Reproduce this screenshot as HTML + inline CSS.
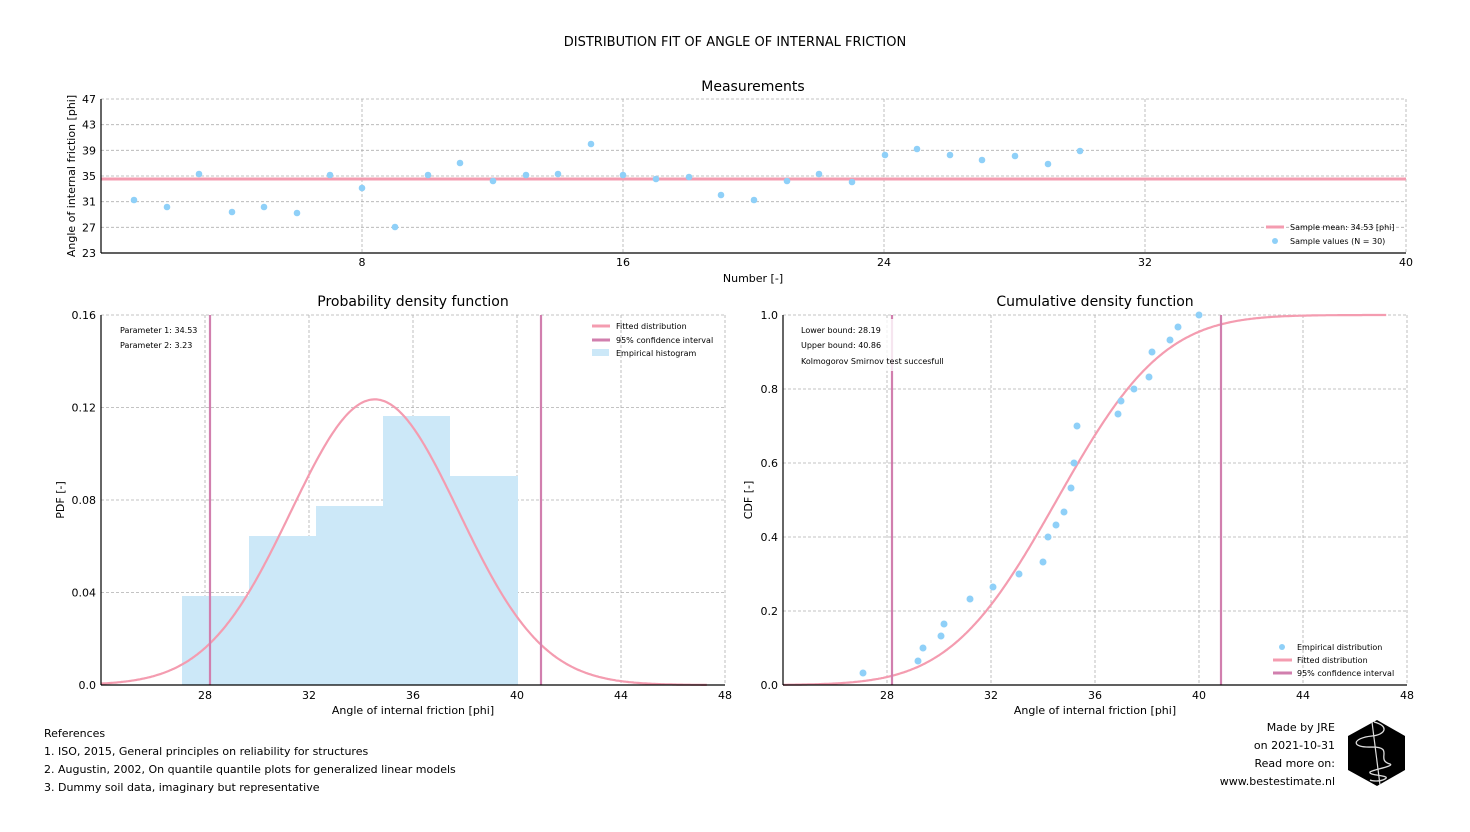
<!DOCTYPE html>
<html><head><meta charset="utf-8"><style>
body{margin:0;background:#fff;}
svg text{font-family:"DejaVu Sans","Liberation Sans",sans-serif;fill:#000;}
</style></head><body>
<svg id="s" width="1470" height="827" xmlns="http://www.w3.org/2000/svg">
<rect width="1470" height="827" fill="#fff"/>
<text x="735" y="46" font-size="13" text-anchor="middle">DISTRIBUTION FIT OF ANGLE OF INTERNAL FRICTION</text>
<g id="top"></g>
<g id="pdf"></g>
<g id="cdf"></g>
<g font-size="11">
<text x="44" y="737">References</text>
<text x="44" y="755">1. ISO, 2015, General principles on reliability for structures</text>
<text x="44" y="773">2. Augustin, 2002, On quantile quantile plots for generalized linear models</text>
<text x="44" y="791">3. Dummy soil data, imaginary but representative</text>
<text x="1335" y="731" text-anchor="end">Made by JRE</text>
<text x="1335" y="749" text-anchor="end">on 2021-10-31</text>
<text x="1335" y="767" text-anchor="end">Read more on:</text>
<text x="1335" y="785" text-anchor="end">www.bestestimate.nl</text>
</g>
<polygon points="1377,720 1405,736 1405,770 1377,786 1348,770 1348,736" fill="#000"/>
<path d="M1374,722 C1390,726 1385,735 1372,736 C1352,738 1350,748 1372,747 C1395,747 1375,760 1390,764 C1395,766 1372,770 1370,772 C1368,776 1392,775 1385,779 C1380,782 1372,781 1370,780" stroke="#ddd" stroke-width="1.3" fill="none"/>
<line x1="1372" y1="722" x2="1380" y2="785" stroke="#ddd" stroke-width="1.2"/>
</svg>
<script>
const NS="http://www.w3.org/2000/svg";
function el(p,t,a,txt){const e=document.createElementNS(NS,t);for(const k in a)e.setAttribute(k,a[k]);if(txt!==undefined)e.textContent=txt;p.appendChild(e);return e;}
const G="#b0b0b0",PINK="#f49cb0",CI="#d17fae",BLUE="#8fd0f8";
function grid(g,L,T,R,B,xs,ys){xs.forEach(x=>el(g,'line',{x1:x,x2:x,y1:T,y2:B,stroke:G,'stroke-width':0.8,'stroke-dasharray':'3,2'}));ys.forEach(y=>el(g,'line',{x1:L,x2:R,y1:y,y2:y,stroke:G,'stroke-width':0.8,'stroke-dasharray':'3,2'}));}
function spines(g,L,T,R,B){el(g,'line',{x1:L,x2:L,y1:T,y2:B,stroke:'#000','stroke-width':1.2});el(g,'line',{x1:L,x2:R,y1:B,y2:B,stroke:'#000','stroke-width':1.2});}
// top
(function(){const g=document.getElementById('top');const L=101,T=99,R=1406,B=253;
const X=v=>L+v*(R-L)/40,Y=v=>B-(v-23)*(B-T)/24;
const xs=[8,16,24,32,40].map(X),ys=[27,31,35,39,43,47].map(Y);
grid(g,L,T,R,B,xs,ys);
el(g,'text',{x:753,y:91,'font-size':14,'text-anchor':'middle'},'Measurements');
el(g,'line',{x1:L,x2:R,y1:179,y2:179,stroke:PINK,'stroke-width':3});
const pts=[[134,200],[167,207],[199,174],[232,212],[264,207],[297,213],[330,175],[362,188],[395,227],[428,175],[460,163],[493,181],[526,175],[558,174],[591,144],[623,175],[656,179],[689,177],[721,195],[754,200],[787,181],[819,174],[852,182],[885,155],[917,149],[950,155],[982,160],[1015,156],[1048,164],[1080,151]];
pts.forEach(p=>el(g,'circle',{cx:p[0],cy:p[1],r:3.3,fill:BLUE}));
spines(g,L,T,R,B);
[8,16,24,32,40].forEach(v=>el(g,'text',{x:X(v),y:266,'font-size':11,'text-anchor':'middle'},v));
[23,27,31,35,39,43,47].forEach(v=>el(g,'text',{x:96,y:Y(v)+4,'font-size':11,'text-anchor':'end'},v));
el(g,'text',{x:753,y:282,'font-size':11,'text-anchor':'middle'},'Number [-]');
el(g,'text',{x:0,y:0,'font-size':11,'text-anchor':'middle',transform:'translate(75,176) rotate(-90)'},'Angle of internal friction [phi]');
el(g,'line',{x1:1266,x2:1284,y1:227,y2:227,stroke:PINK,'stroke-width':3});
el(g,'text',{x:1290,y:230,'font-size':8},'Sample mean: 34.53 [phi]');
el(g,'circle',{cx:1275,cy:241,r:3,fill:BLUE});
el(g,'text',{x:1290,y:244,'font-size':8},'Sample values (N = 30)');
})();
const mu=34.53,sd=3.23;
function erf(x){const s=Math.sign(x);x=Math.abs(x);const t=1/(1+0.3275911*x);const y=1-(((((1.061405429*t-1.453152027)*t)+1.421413741)*t-0.284496736)*t+0.254829592)*t*Math.exp(-x*x);return s*y;}
// pdf
(function(){const g=document.getElementById('pdf');const L=101,T=315,R=725,B=685;
const X=v=>L+(v-24)*26,Y=v=>B-v*(B-T)/0.16;
const xs=[28,32,36,40,44,48].map(X),ys=[0.04,0.08,0.12,0.16].map(Y);
grid(g,L,T,R,B,xs,ys);
el(g,'text',{x:413,y:306,'font-size':14,'text-anchor':'middle'},'Probability density function');
[[182,249,596],[249,316,536],[316,383,506],[383,450,416],[450,518,476]].forEach(b=>el(g,'rect',{x:b[0],y:b[2],width:b[1]-b[0],height:B-b[2],fill:'#cce8f8'}));
let d='';for(let v=24;v<=47.3;v+=0.05){const p=Math.exp(-0.5*((v-mu)/sd)**2)/(sd*Math.sqrt(2*Math.PI));d+=(d?'L':'M')+X(v).toFixed(1)+','+Y(p).toFixed(1);}
el(g,'path',{d:d,stroke:PINK,'stroke-width':2.2,fill:'none'});
el(g,'line',{x1:210,x2:210,y1:T,y2:B,stroke:CI,'stroke-width':2.2});
el(g,'line',{x1:541,x2:541,y1:T,y2:B,stroke:CI,'stroke-width':2.2});
spines(g,L,T,R,B);
[28,32,36,40,44,48].forEach(v=>el(g,'text',{x:X(v),y:699,'font-size':11,'text-anchor':'middle'},v));
[[0,'0.0'],[0.04,'0.04'],[0.08,'0.08'],[0.12,'0.12'],[0.16,'0.16']].forEach(a=>el(g,'text',{x:96,y:Y(a[0])+4,'font-size':11,'text-anchor':'end'},a[1]));
el(g,'text',{x:413,y:714,'font-size':11,'text-anchor':'middle'},'Angle of internal friction [phi]');
el(g,'text',{x:0,y:0,'font-size':11,'text-anchor':'middle',transform:'translate(64,500) rotate(-90)'},'PDF [-]');
el(g,'text',{x:120,y:333,'font-size':8},'Parameter 1: 34.53');
el(g,'text',{x:120,y:348,'font-size':8},'Parameter 2: 3.23');
el(g,'line',{x1:592,x2:610,y1:326,y2:326,stroke:PINK,'stroke-width':3});
el(g,'text',{x:616,y:329,'font-size':8},'Fitted distribution');
el(g,'line',{x1:592,x2:610,y1:340,y2:340,stroke:CI,'stroke-width':3});
el(g,'text',{x:616,y:343,'font-size':8},'95% confidence interval');
el(g,'rect',{x:592,y:349,width:17,height:7,fill:'#cce8f8'});
el(g,'text',{x:616,y:356,'font-size':8},'Empirical histogram');
})();
// cdf
(function(){const g=document.getElementById('cdf');const L=783,T=315,R=1407,B=685;
const X=v=>L+(v-24)*26,Y=v=>B-v*(B-T);
const xs=[28,32,36,40,44,48].map(X),ys=[0.2,0.4,0.6,0.8,1.0].map(Y);
grid(g,L,T,R,B,xs,ys);
el(g,'text',{x:1095,y:306,'font-size':14,'text-anchor':'middle'},'Cumulative density function');
let d='';for(let v=24;v<=47.2;v+=0.05){const p=0.5*(1+erf((v-mu)/(sd*Math.SQRT2)));d+=(d?'L':'M')+X(v).toFixed(1)+','+Y(p).toFixed(1);}
el(g,'path',{d:d,stroke:PINK,'stroke-width':2.2,fill:'none'});
el(g,'line',{x1:892,x2:892,y1:T,y2:B,stroke:CI,'stroke-width':2.2});
el(g,'line',{x1:1221,x2:1221,y1:T,y2:B,stroke:CI,'stroke-width':2.2});
const pts=[[863,673],[918,661],[923,648],[941,636],[944,624],[970,599],[993,587],[1019,574],[1043,562],[1048,537],[1056,525],[1064,512],[1071,488],[1074,463],[1077,426],[1118,414],[1121,401],[1134,389],[1149,377],[1152,352],[1170,340],[1178,327],[1199,315]];
pts.forEach(p=>el(g,'circle',{cx:p[0],cy:p[1],r:3.5,fill:BLUE}));
spines(g,L,T,R,B);
[28,32,36,40,44,48].forEach(v=>el(g,'text',{x:X(v),y:699,'font-size':11,'text-anchor':'middle'},v));
[0,0.2,0.4,0.6,0.8,1.0].forEach(v=>el(g,'text',{x:778,y:Y(v)+4,'font-size':11,'text-anchor':'end'},v.toFixed(1)));
el(g,'text',{x:1095,y:714,'font-size':11,'text-anchor':'middle'},'Angle of internal friction [phi]');
el(g,'text',{x:0,y:0,'font-size':11,'text-anchor':'middle',transform:'translate(752,500) rotate(-90)'},'CDF [-]');
el(g,'rect',{x:886,y:319,width:12,height:52,fill:'#fff',opacity:0.8});
el(g,'text',{x:801,y:333,'font-size':8},'Lower bound: 28.19');
el(g,'text',{x:801,y:348,'font-size':8},'Upper bound: 40.86');
el(g,'text',{x:801,y:364,'font-size':8},'Kolmogorov Smirnov test succesfull');
el(g,'circle',{cx:1282,cy:647,r:3,fill:BLUE});
el(g,'text',{x:1297,y:650,'font-size':8},'Empirical distribution');
el(g,'line',{x1:1273,x2:1292,y1:660,y2:660,stroke:PINK,'stroke-width':3});
el(g,'text',{x:1297,y:663,'font-size':8},'Fitted distribution');
el(g,'line',{x1:1273,x2:1292,y1:673,y2:673,stroke:CI,'stroke-width':3});
el(g,'text',{x:1297,y:676,'font-size':8},'95% confidence interval');
})();
</script>
</body></html>
